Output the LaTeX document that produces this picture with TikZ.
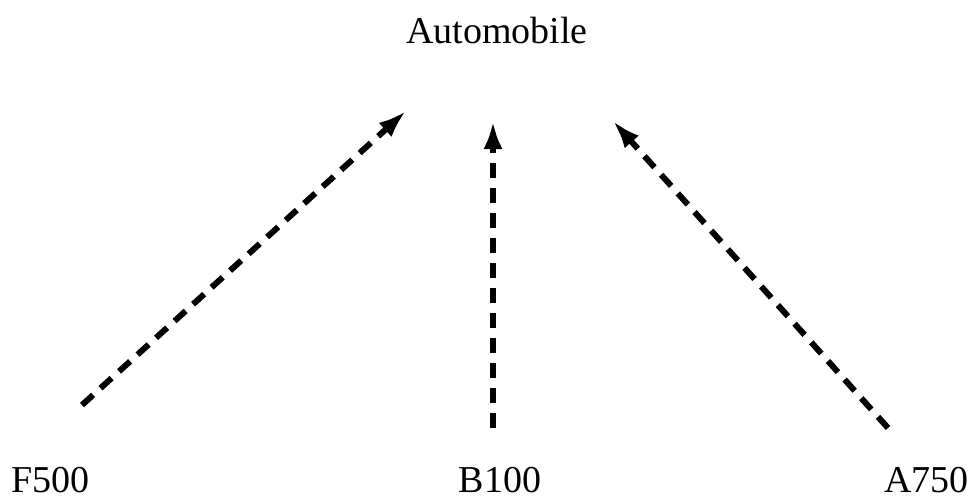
\documentclass[tikz,border=0pt]{standalone}
\usepackage{fontspec}
\setmainfont{Liberation Serif}
\usetikzlibrary{arrows.meta}
\begin{document}
\begin{tikzpicture}[x=1pt,y=-1pt,
  lbl/.style={inner sep=0pt,font=\fontsize{38}{40}\selectfont},
  conn/.style={line width=6pt,dash pattern=on 15pt off 10pt,
    -{Latex[length=28pt,width=19pt]}}]
\useasboundingbox (0,0) rectangle (971,501);
\node[lbl,anchor=base] (auto) at (497,43) {Automobile};
\node[lbl,anchor=base west] (f500) at (11,492.5) {F500};
\node[lbl,anchor=base] (b100) at (500,492.5) {B100};
\node[lbl,anchor=base east] (a750) at (969,492.5) {A750};
\coordinate (fs) at (82,405);
\coordinate (ft) at (406,111);
\coordinate (bs) at (493,428);
\coordinate (bt) at (493,121);
\coordinate (as) at (888,428);
\coordinate (at) at (613,121);
\draw[conn] (fs) -- (ft);
\draw[conn] (bs) -- (bt);
\draw[conn] (as) -- (at);
\end{tikzpicture}
\end{document}
